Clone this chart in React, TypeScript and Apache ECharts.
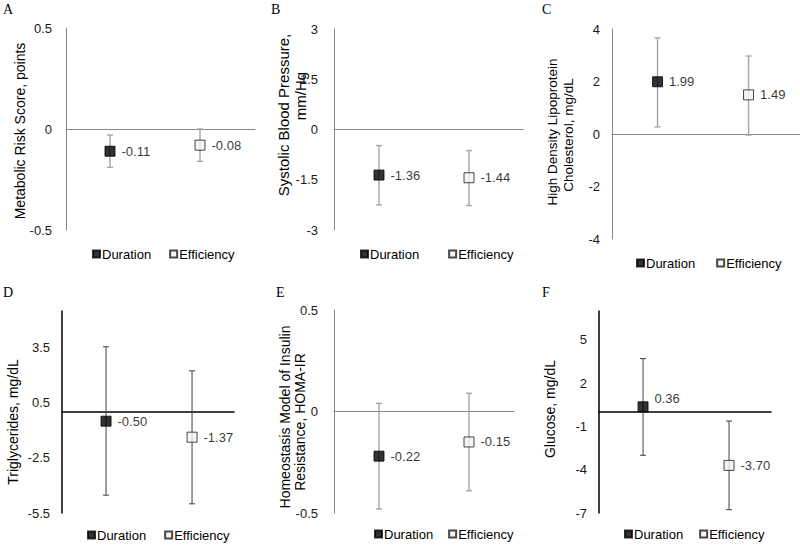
import React, { useEffect, useRef } from "react";
import * as echarts from "echarts";

// ---------- data ----------
const panelLetters = ["A", "B", "C", "D", "E", "F"];
const yAxisTitles = [
  ["Metabolic Risk Score, points"],
  ["Systolic Blood Pressure,", "mm/Hg"],
  ["High Density Lipoprotein", "Cholesterol, mg/dL"],
  ["Triglycerides, mg/dL"],
  ["Homeostasis Model of Insulin", "Resistance, HOMA-IR"],
  ["Glucose, mg/dL"],
];
const groups = ["Duration", "Efficiency"];
const durationMean = [-0.11, -1.36, 1.99, -0.5, -0.22, 0.36];
const durationLower = [-0.19, -2.25, 0.27, -4.53, -0.48, -3.0];
const durationUpper = [-0.03, -0.48, 3.66, 3.55, 0.04, 3.7];
const efficiencyMean = [-0.08, -1.44, 1.49, -1.37, -0.15, -3.7];
const efficiencyLower = [-0.16, -2.27, -0.04, -5.0, -0.39, -6.77];
const efficiencyUpper = [0.0, -0.63, 2.97, 2.24, 0.09, -0.63];
const yMin = [-0.5, -3, -4, -5.5, -0.5, -7];
const yMax = [0.5, 3, 4, 5.5, 0.5, 7];
const yTicks = [
  [-0.5, 0, 0.5],
  [-3, -1.5, 0, 1.5, 3],
  [-4, -2, 0, 2, 4],
  [-5.5, -2.5, 0.5, 3.5],
  [-0.5, 0, 0.5],
  [-7, -4, -1, 2, 5],
];

// ---------- layout (positions / styles only) ----------
const layout = [
  { left: 66, top: 28, width: 189, height: 202, xMin: -0.489, xMax: 1.611, margin: 14, dark: false, titleSize: 14,
    letter: [3, 9], titles: [[20, 131]], legend: [92, 247, 18], labelOffset: [0, 0] },
  { left: 334, top: 29, width: 189, height: 201, xMin: -0.5, xMax: 1.6, margin: 16, dark: false, titleSize: 15,
    letter: [271, 9], titles: [[283, 115], [300, 96]], legend: [360, 247, 29], labelOffset: [0, 0] },
  { left: 612, top: 29, width: 190, height: 210, xMin: -0.5, xMax: 1.565, margin: 12, dark: false, titleSize: 13.5,
    letter: [542, 9], titles: [[552, 132], [568, 135]], legend: [636, 256, 21], labelOffset: [0, 0] },
  { left: 62, top: 311, width: 172, height: 202, xMin: -0.512, xMax: 1.488, margin: 12, dark: true, titleSize: 14,
    letter: [3, 292], titles: [[13, 422]], legend: [87, 528, 18], labelOffset: [0, 0] },
  { left: 334, top: 310, width: 180, height: 203, xMin: -0.5, xMax: 1.5, margin: 16, dark: false, titleSize: 14,
    letter: [276, 292], titles: [[285, 417], [300, 422]], legend: [374, 527, 15], labelOffset: [0, 0] },
  { left: 599, top: 311, width: 172, height: 202, xMin: -0.512, xMax: 1.488, margin: 12, dark: true, titleSize: 14,
    letter: [542, 292], titles: [[550, 409]], legend: [624, 527, 16], labelOffset: [0, -8] },
];

const SANS = "'Liberation Sans', Arial, sans-serif";
const SERIF = "'Liberation Serif', 'Times New Roman', serif";

function buildOption() {
  const grid: any[] = [];
  const xAxis: any[] = [];
  const yAxis: any[] = [];
  const series: any[] = [];
  const legend: any[] = [];
  const graphic: any[] = [];

  panelLetters.forEach((letter, i) => {
    const L = layout[i];
    const axisColor = L.dark ? "#000000" : "#868686";
    const axisWidth = L.dark ? 1.5 : 1;
    const errColor = L.dark ? "#404040" : "#a6a6a6";
    const errWidth = L.dark ? 1 : 1.4;

    grid.push({ left: L.left, top: L.top, width: L.width, height: L.height, containLabel: false });
    xAxis.push({
      type: "value",
      gridIndex: i,
      min: L.xMin,
      max: L.xMax,
      axisLine: { show: true, onZero: true, lineStyle: { color: axisColor, width: axisWidth } },
      axisTick: { show: false },
      axisLabel: { show: false },
      splitLine: { show: false },
    });
    yAxis.push({
      type: "value",
      gridIndex: i,
      min: yMin[i],
      max: yMax[i],
      axisLine: { show: true, onZero: false, lineStyle: { color: axisColor, width: axisWidth } },
      axisTick: { show: false },
      splitLine: { show: false },
      axisLabel: {
        customValues: yTicks[i],
        margin: L.margin,
        fontSize: 13,
        fontFamily: SANS,
        color: "#1a1a1a",
        formatter: (v: number) => String(v),
      },
    });

    const bars = [
      [0, durationLower[i], durationUpper[i]],
      [1, efficiencyLower[i], efficiencyUpper[i]],
    ];
    series.push({
      type: "custom",
      xAxisIndex: i,
      yAxisIndex: i,
      z: 1,
      silent: true,
      encode: { x: 0, y: [1, 2] },
      data: bars,
      renderItem: (params: any, api: any) => {
        const x = api.value(0);
        const pLo = api.coord([x, api.value(1)]);
        const pHi = api.coord([x, api.value(2)]);
        const w = 3;
        const style = { stroke: errColor, lineWidth: errWidth };
        return {
          type: "group",
          children: [
            { type: "line", shape: { x1: pLo[0], y1: pLo[1], x2: pHi[0], y2: pHi[1] }, style },
            { type: "line", shape: { x1: pLo[0] - w, y1: pLo[1], x2: pLo[0] + w, y2: pLo[1] }, style },
            { type: "line", shape: { x1: pHi[0] - w, y1: pHi[1], x2: pHi[0] + w, y2: pHi[1] }, style },
          ],
        };
      },
    });

    const labelCfg = (offset: number[]) => ({
      show: true,
      position: "right",
      distance: 6,
      offset,
      fontSize: 13,
      fontFamily: SANS,
      color: "#000",
      formatter: (p: any) => Number(p.value[1]).toFixed(2),
    });

    series.push({
      type: "scatter",
      name: groups[0],
      xAxisIndex: i,
      yAxisIndex: i,
      z: 3,
      symbol: "rect",
      symbolSize: 10,
      itemStyle: { color: "#000000", borderColor: "#000000", borderWidth: 1 },
      label: labelCfg(L.labelOffset),
      data: [[0, durationMean[i]]],
    });
    series.push({
      type: "scatter",
      name: groups[1],
      xAxisIndex: i,
      yAxisIndex: i,
      z: 3,
      symbol: "rect",
      symbolSize: 10,
      itemStyle: { color: "#f2f2f2", borderColor: "#1a1a1a", borderWidth: 1 },
      label: labelCfg([0, 0]),
      data: [[1, efficiencyMean[i]]],
    });

    legend.push({
      left: L.legend[0],
      top: L.legend[1],
      padding: 0,
      itemGap: L.legend[2],
      itemWidth: 7,
      itemHeight: 7,
      icon: "rect",
      selectedMode: false,
      data: groups,
      textStyle: { fontSize: 13, fontFamily: SANS, color: "#000", lineHeight: 14, padding: [0, 0, 0, -3] },
    });

    graphic.push({
      type: "text",
      x: L.letter[0],
      y: L.letter[1],
      style: { text: letter, font: `14px ${SERIF}`, fill: "#000", align: "left", verticalAlign: "middle" },
    });
    yAxisTitles[i].forEach((t, k) => {
      const pos = L.titles[k];
      graphic.push({
        type: "text",
        x: pos[0],
        y: pos[1],
        rotation: Math.PI / 2,
        style: { text: t, font: `${L.titleSize}px ${SANS}`, fill: "#000", align: "center", verticalAlign: "middle" },
      });
    });
  });

  return {
    animation: false,
    backgroundColor: "#ffffff",
    textStyle: { fontFamily: SANS },
    grid,
    xAxis,
    yAxis,
    series,
    legend,
    graphic,
  };
}

export default function App() {
  const ref = useRef<HTMLDivElement>(null);
  useEffect(() => {
    if (!ref.current) return;
    const chart = echarts.init(ref.current, undefined, { renderer: "svg" });
    chart.setOption(buildOption() as any);
    return () => chart.dispose();
  }, []);
  return (
    <div
      ref={ref}
      style={{ position: "absolute", left: 0, top: 0, width: 800, height: 546, background: "#fff" }}
    />
  );
}
